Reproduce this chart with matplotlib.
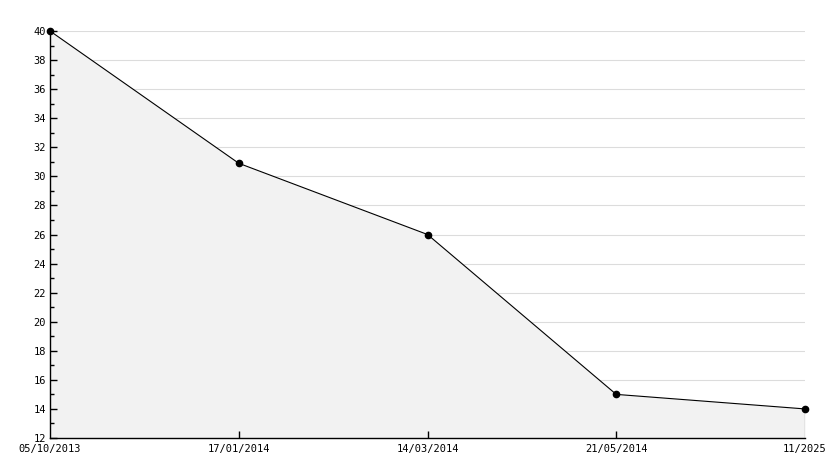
import matplotlib as mpl
mpl.use('Agg')
import matplotlib.pyplot as plt
from matplotlib.ticker import MultipleLocator

dates = ['05/10/2013', '17/01/2014', '14/03/2014', '21/05/2014', '11/2025']
values = [40, 30.9, 26, 15, 14]

W, H = 834, 468
fig = plt.figure(figsize=(W / 100, H / 100), dpi=100)
ax = fig.add_axes([50 / W, 30 / H, 755 / W, 407 / H])

xs = list(range(len(dates)))
ax.fill_between(xs, values, 12, color='#f2f2f2', linewidth=0, zorder=0.4)
ax.plot(xs, values, color='black', linewidth=0.8, marker='o', markersize=4.5,
        clip_on=False, zorder=5)
ax.plot([xs[-1], xs[-1]], [12, values[-1]], color='black', linewidth=0.8)

ax.set_xlim(0, len(dates) - 1)
ax.set_ylim(12, 40)
ax.set_xticks(xs)
ax.set_xticklabels(dates, family='DejaVu Sans Mono', fontsize=7.5)
ax.yaxis.set_major_locator(MultipleLocator(2))
ax.yaxis.set_minor_locator(MultipleLocator(1))
for lab in ax.get_yticklabels():
    lab.set_family('DejaVu Sans Mono')
    lab.set_fontsize(7.5)

# gridlines sit under the fill, ticks above it
ax.hlines(range(14, 41, 2), 0, len(dates) - 1, color='#dcdcdc', linewidth=0.8, zorder=0.2)
ax.tick_params(axis='y', which='major', direction='in', length=5, width=1, pad=3)
ax.tick_params(axis='y', which='minor', direction='in', length=3, width=1)
ax.tick_params(axis='x', direction='in', length=5, width=1, pad=4)
ax.xaxis.get_major_ticks()[0].tick1line.set_visible(False)
ax.xaxis.get_major_ticks()[-1].tick1line.set_visible(False)

for s in ('top', 'right'):
    ax.spines[s].set_visible(False)
for s in ('left', 'bottom'):
    ax.spines[s].set_linewidth(1)

fig.savefig('out.png', dpi=100)
